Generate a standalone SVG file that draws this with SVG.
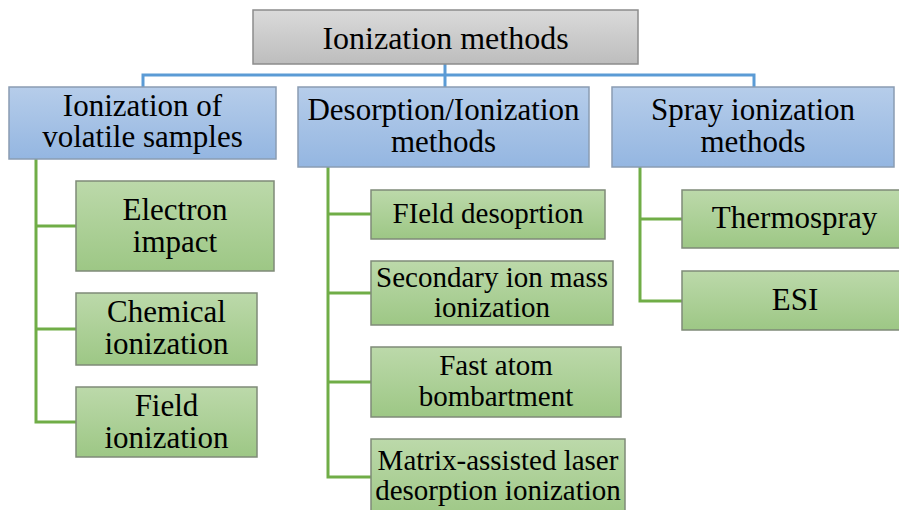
<svg xmlns="http://www.w3.org/2000/svg" id="dia" width="899" height="510" viewBox="0 0 899 510">
<defs>
<linearGradient id="gGray" x1="0" y1="0" x2="0" y2="1"><stop offset="0" stop-color="#dadada"/><stop offset="1" stop-color="#bdbdbd"/></linearGradient>
<linearGradient id="gBlue" x1="0" y1="0" x2="0" y2="1"><stop offset="0" stop-color="#b6cdea"/><stop offset="1" stop-color="#94b6e1"/></linearGradient>
<linearGradient id="gGreen" x1="0" y1="0" x2="0" y2="1"><stop offset="0" stop-color="#bcd9aa"/><stop offset="1" stop-color="#9dc785"/></linearGradient>
</defs>
<style>
svg#dia g[id] text[font-family], #root text, #volatile text, #desorption text, #spray text, #electron text, #chemical text, #fieldion text, #fielddes text, #sims text, #fab text, #maldi text, #thermospray text, #esi text{font-family:'Liberation Serif' !important}
</style>
<g id="connectors" fill="none" stroke-width="3">
<path stroke="#5b9bd5" d="M445 64V75M143 87V75H754V87M445 75V87"/>
<path stroke="#70ad47" d="M36 159V422H76M36 226H76M36 329H76"/>
<path stroke="#70ad47" d="M328 167V477H371M328 214H371M328 293H371M328 382H371"/>
<path stroke="#70ad47" d="M640 167V301H682M640 219H682"/>
</g>
<g id="root"><rect fill="url(#gGray)" stroke="#8c8c8c" stroke-width="1.5" x="253" y="10" width="385" height="54"/><text font-family="Liberation Serif" text-anchor="middle" font-size="32" x="445.5" y="49">Ionization methods</text></g>
<g id="volatile"><rect fill="url(#gBlue)" stroke="#8a9cb2" stroke-width="1.5" x="9" y="87" width="267" height="72"/><text font-family="Liberation Serif" text-anchor="middle" font-size="31" x="142.5" y="116">Ionization of</text><text font-family="Liberation Serif" text-anchor="middle" font-size="31" x="142.5" y="147">volatile samples</text></g>
<g id="desorption"><rect fill="url(#gBlue)" stroke="#8a9cb2" stroke-width="1.5" x="298" y="87" width="291" height="80"/><text font-family="Liberation Serif" text-anchor="middle" font-size="31" x="443.5" y="120">Desorption/Ionization</text><text font-family="Liberation Serif" text-anchor="middle" font-size="31" x="443.5" y="152">methods</text></g>
<g id="spray"><rect fill="url(#gBlue)" stroke="#8a9cb2" stroke-width="1.5" x="612" y="87" width="282" height="80"/><text font-family="Liberation Serif" text-anchor="middle" font-size="31" x="753" y="120">Spray ionization</text><text font-family="Liberation Serif" text-anchor="middle" font-size="31" x="753" y="152">methods</text></g>
<g id="electron"><rect fill="url(#gGreen)" stroke="#7f8a78" stroke-width="1.5" x="76" y="181" width="198" height="90"/><text font-family="Liberation Serif" text-anchor="middle" font-size="31" x="175" y="220">Electron</text><text font-family="Liberation Serif" text-anchor="middle" font-size="31" x="175" y="252">impact</text></g>
<g id="chemical"><rect fill="url(#gGreen)" stroke="#7f8a78" stroke-width="1.5" x="76" y="293" width="181" height="72"/><text font-family="Liberation Serif" text-anchor="middle" font-size="31" x="166.5" y="322">Chemical</text><text font-family="Liberation Serif" text-anchor="middle" font-size="31" x="166.5" y="354">ionization</text></g>
<g id="fieldion"><rect fill="url(#gGreen)" stroke="#7f8a78" stroke-width="1.5" x="76" y="387" width="181" height="70"/><text font-family="Liberation Serif" text-anchor="middle" font-size="31" x="166.5" y="416">Field</text><text font-family="Liberation Serif" text-anchor="middle" font-size="31" x="166.5" y="448">ionization</text></g>
<g id="fielddes"><rect fill="url(#gGreen)" stroke="#7f8a78" stroke-width="1.5" x="371" y="190" width="234" height="49"/><text font-family="Liberation Serif" text-anchor="middle" font-size="29" x="488" y="223">FIeld desoprtion</text></g>
<g id="sims"><rect fill="url(#gGreen)" stroke="#7f8a78" stroke-width="1.5" x="371" y="261" width="242" height="64"/><text font-family="Liberation Serif" text-anchor="middle" font-size="29" x="492" y="287">Secondary ion mass</text><text font-family="Liberation Serif" text-anchor="middle" font-size="29" x="492" y="317">ionization</text></g>
<g id="fab"><rect fill="url(#gGreen)" stroke="#7f8a78" stroke-width="1.5" x="371" y="347" width="250" height="70"/><text font-family="Liberation Serif" text-anchor="middle" font-size="29" x="496" y="375">Fast atom</text><text font-family="Liberation Serif" text-anchor="middle" font-size="29" x="496" y="406">bombartment</text></g>
<g id="maldi"><rect fill="url(#gGreen)" stroke="#7f8a78" stroke-width="1.5" x="371" y="439" width="254" height="80"/><text font-family="Liberation Serif" text-anchor="middle" font-size="29" x="498" y="470">Matrix-assisted laser</text><text font-family="Liberation Serif" text-anchor="middle" font-size="29" x="498" y="500">desorption ionization</text></g>
<g id="thermospray"><rect fill="url(#gGreen)" stroke="#7f8a78" stroke-width="1.5" x="682" y="190" width="225" height="58"/><text font-family="Liberation Serif" text-anchor="middle" font-size="31" x="794.5" y="228">Thermospray</text></g>
<g id="esi"><rect fill="url(#gGreen)" stroke="#7f8a78" stroke-width="1.5" x="682" y="271" width="225" height="59"/><text font-family="Liberation Serif" text-anchor="middle" font-size="31" x="795" y="310">ESI</text></g>
</svg>
